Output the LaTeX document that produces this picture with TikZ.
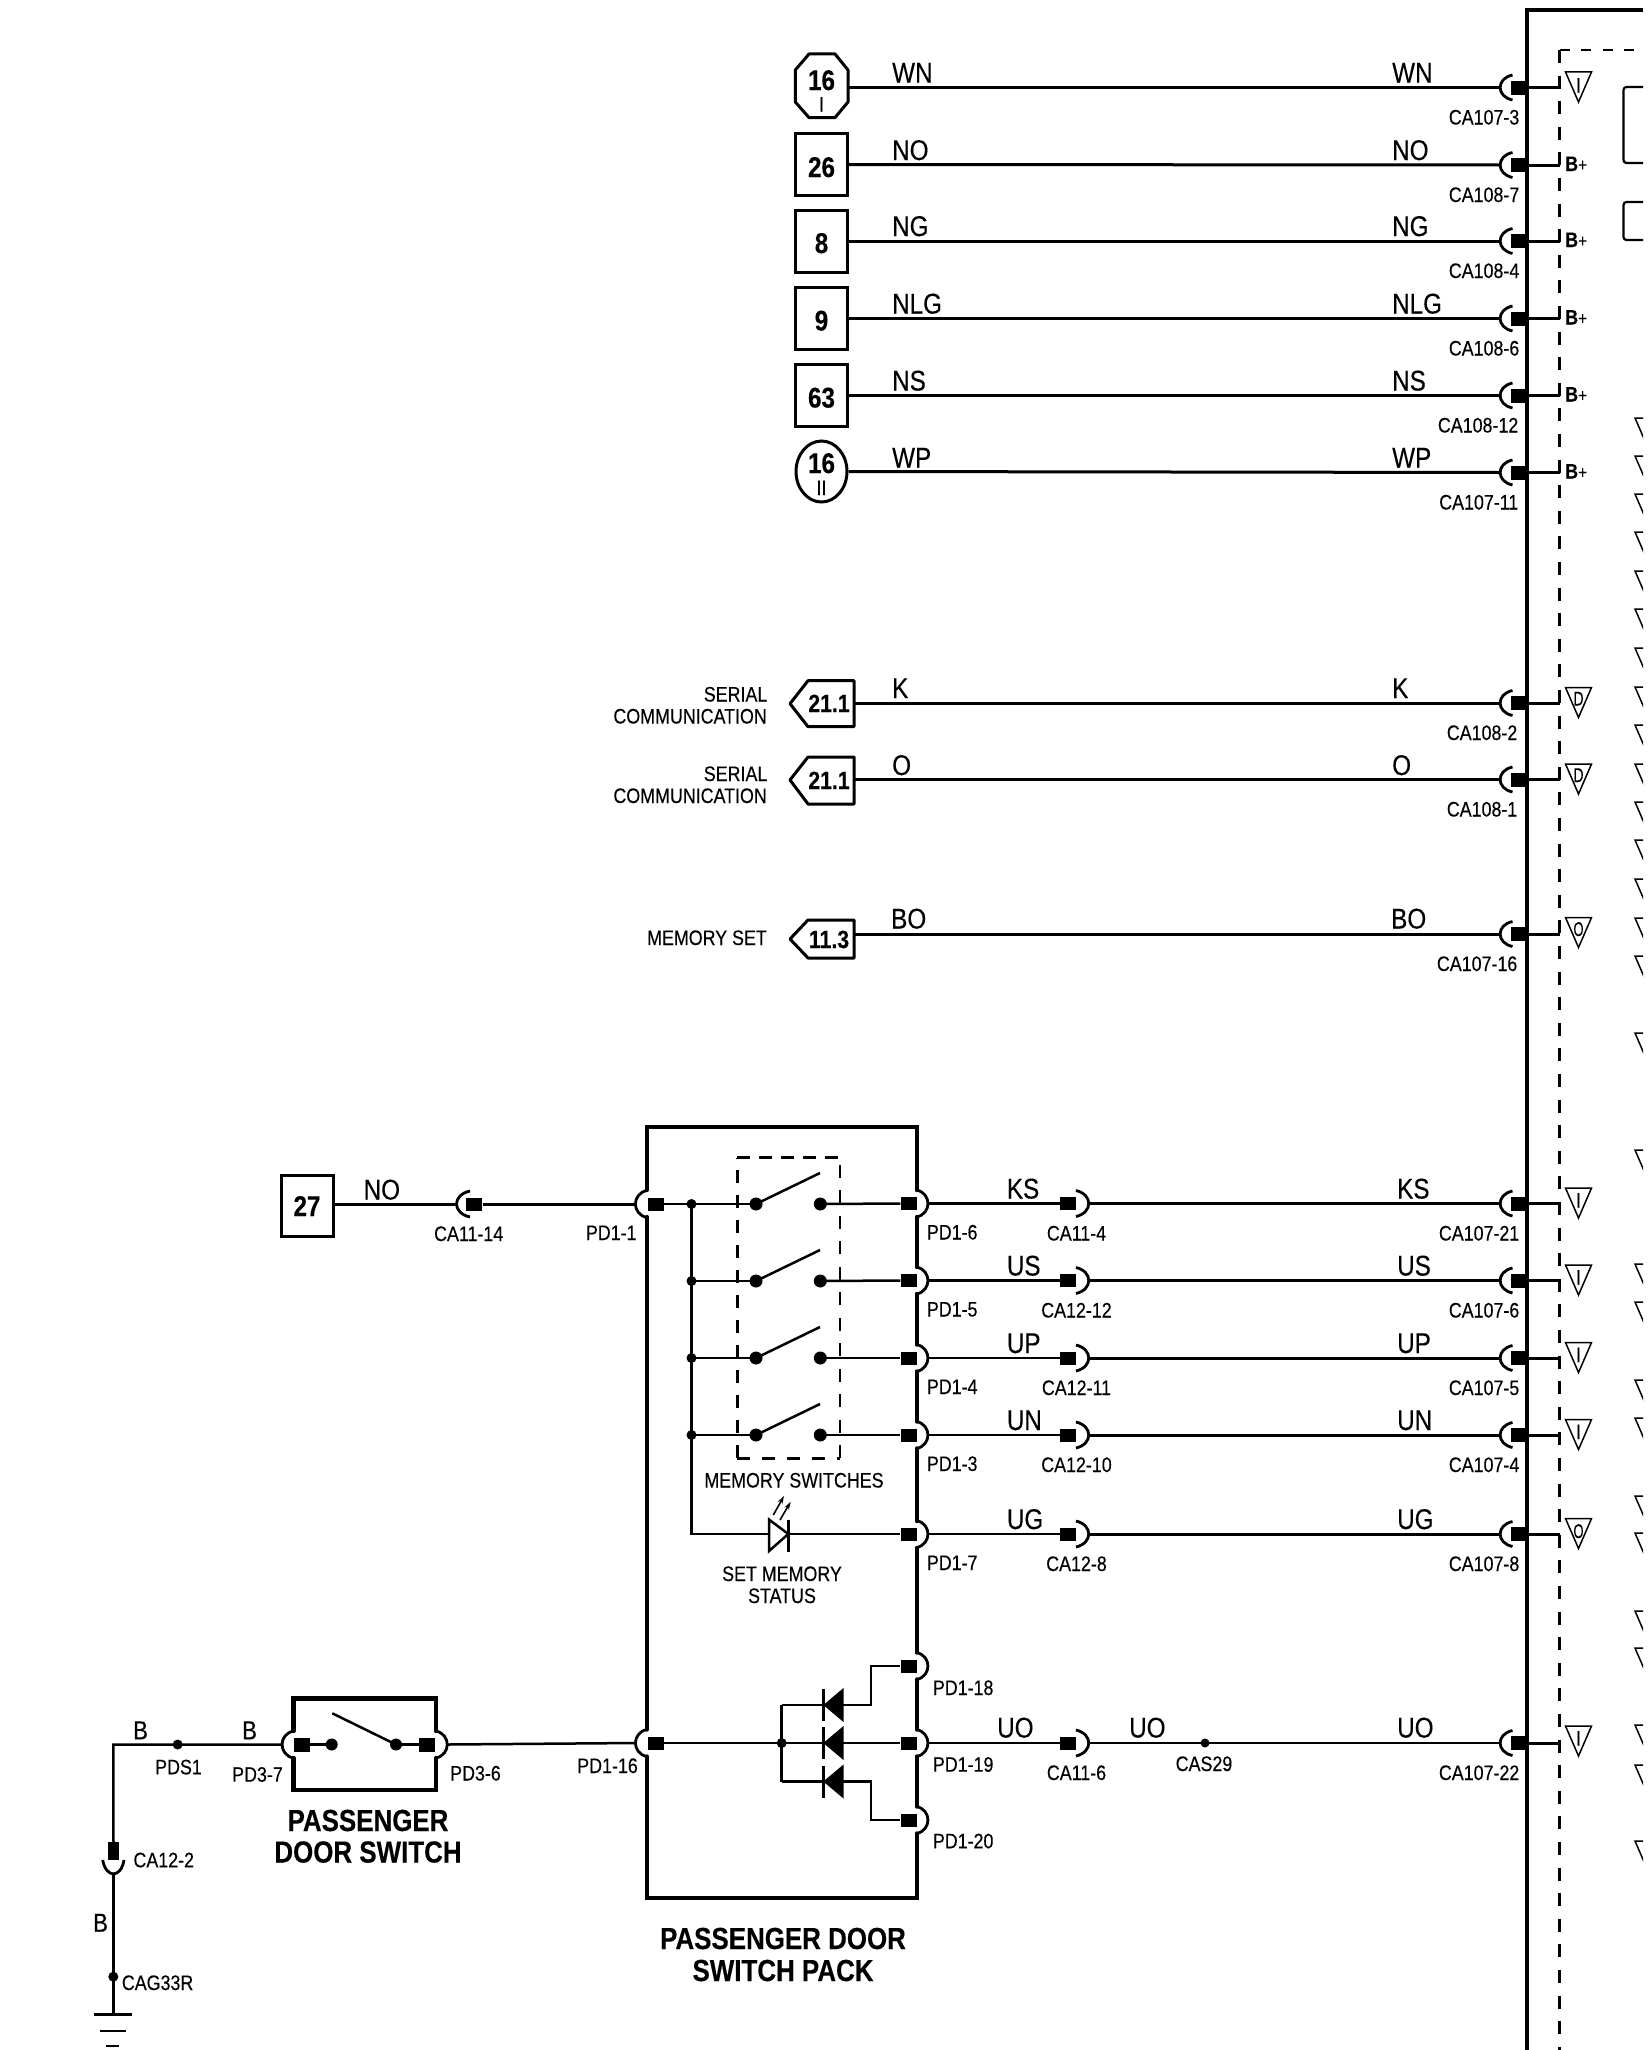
\documentclass[tikz,border=0pt]{standalone}
\usepackage{fontspec}
\usetikzlibrary{arrows.meta,shapes.geometric}
\newfontfamily\nf[FakeStretch=0.85,FakeBold=0.25]{Liberation Sans}
\tikzset{
  base/.style={x=1pt,y=-1pt},
  wire/.style={line width=3pt,black},
  thinw/.style={line width=2.5pt,black},
  crv/.style={line width=2.8pt,black},
  wall/.style={line width=4.4pt,black,line cap=round,line join=miter},
  bx/.style={draw=black,line width=3pt,fill=white,inner sep=0pt},
  outl/.style={draw=black,line width=3pt},
  ddash/.style={line width=2.4pt,black,dash pattern=on 13pt off 12.6pt},
  pinsq/.style={rectangle,fill=black,inner sep=0pt,minimum width=16pt,minimum height=14pt},
  dotb/.style={circle,fill=black,inner sep=0pt,minimum size=13pt},
  dots/.style={circle,fill=black,inner sep=0pt,minimum size=10pt},
  wl/.style={font=\nf\fontsize{28.5}{28.5}\selectfont,inner sep=0pt,anchor=base west},
  bl/.style={font=\nf\fontsize{26}{26}\selectfont,inner sep=0pt,anchor=base west},
  sl/.style={font=\nf\fontsize{21}{21}\selectfont,inner sep=0pt,anchor=base west},
  slr/.style={sl,anchor=base east},
  slc/.style={sl,anchor=base},
  nb/.style={font=\nf\bfseries\fontsize{28.5}{28.5}\selectfont,inner sep=0pt,anchor=base},
  nbs/.style={font=\nf\bfseries\fontsize{25}{25}\selectfont,inner sep=0pt,anchor=base},
  ttl/.style={font=\nf\bfseries\fontsize{30.5}{30.5}\selectfont,inner sep=0pt,anchor=base},
  tri/.style={line width=1.5pt,black},
}
\def\lblr{1519.5}
% right hand harness connector: name, row, label
\newcommand{\ConnR}[3]{%
  \node[pinsq,anchor=east] (#1) at (1527,#2) {};
  \coordinate (#1c) at (1500,#2);
  \coordinate (#1d) at (1559.5,#2);
  \draw[crv] (1512.5,{#2-12.5}) .. controls (1496,{#2-9}) and (1496,{#2+9}) .. (1512.5,{#2+12.5});
  \draw[wire] (#1.east) -- (#1d);
  \node[slr] (#1t) at (\lblr,{#2+37}) {#3};
}
% triangle: row, text, name, base offset
\newcommand{\TriM}[4]{%
  \draw[tri] (1565.5,{#1-15.5}) -- (1591.5,{#1-15.5}) -- (1578.5,{#1+14.5}) -- cycle;
  \node[sl,anchor=base] (#3) at (1578.5,{#1+#4}) {#2};
}
\newcommand{\NarO}{\scalebox{.72}[.95]{O}}
\newcommand{\NarD}{\scalebox{.78}[.95]{D}}
\newcommand{\BPlus}[2]{\node[sl,anchor=base west] (#2) at (1565,{#1+6}) {\bfseries B\mdseries\fontsize{18}{18}\selectfont +};}
\newcommand{\BumpR}[3]{\draw[crv] (#1,{#2-13.5}) .. controls ({#1+15},{#2-10}) and ({#1+15},{#2+10}) .. (#1,{#2+13.5});\coordinate (#3) at ({#1+11.3},#2);}
\newcommand{\BumpL}[3]{\draw[crv] (#1,{#2-13.5}) .. controls ({#1-15},{#2-10}) and ({#1-15},{#2+10}) .. (#1,{#2+13.5});\coordinate (#3) at ({#1-11.3},#2);}
% mid-wire connector
\newcommand{\ConnM}[3]{%
  \node[pinsq,minimum height=13pt,anchor=east] (#1) at (1076.5,#2) {};
  \draw[crv] (1076,{#2-13}) .. controls (1093,{#2-9}) and (1093,{#2+9}) .. (1076,{#2+13});
  \coordinate (#1o) at (1089,#2);
  \node[slc] (#1t) at (1076.5,{#2+37}) {#3};
}
% row of the switch pack going to the loom
\newcommand{\PackRow}[8]{%  name,row,pinlabel,pinlabel-x,mid label,wire,rightlabel,ptext
  \node[pinsq,minimum height=13pt,anchor=east] (#1p) at (916.7,#2) {};
  \BumpR{916.7}{#2}{#1b}
  \node[sl] (#1pl) at (#4,{#2+36}) {#3};
  \ConnM{#1m}{#2}{#5}
  \ConnR{#1r}{#2}{#7}
  \draw[thinw] (#1b) -- (#1m.west);
  \draw[wire] (#1mo) -- (#1rc);
  \node[wl] (#1a) at (1006.7,{#2-5}) {#6};
  \node[wl] (#1bb) at (1397,{#2-5}) {#6};
  \TriM{#2}{#8}{#1tr}{4}
}
\begin{document}
\begin{tikzpicture}[base]
\useasboundingbox (0,0) rectangle (1648,2050);
\fill[white] (0,0) rectangle (1648,2050);

% ---- module frame and dashed inner box
\draw[line width=4pt,black] (1527,2050) -- (1527,10) -- (1643,10);
\draw[line width=2.4pt,black,dash pattern=on 10pt off 11.5pt] (1559.5,50) -- (1641,50);
\draw[ddash] (1559.5,50) -- (1559.5,2050);
\draw[line width=2.2pt,black,rounded corners=3pt] (1643,87) -- (1623.5,87) -- (1623.5,163) -- (1643,163);
\draw[line width=2.2pt,black,rounded corners=3pt] (1643,202) -- (1623.5,202) -- (1623.5,240) -- (1643,240);
\begin{scope}
\clip (1625,0) rectangle (1643,2050);
\foreach \ty in {418,456,494,532,571,609,648,687,725,764,802,840,879,918,956,1033,1150,1264,1302,1380,1418,1496,1533,1611,1648,1725,1765,1841}
  \draw[tri] (1635,\ty) -- (1661,\ty) -- (1648,{\ty+30}) -- cycle;
\end{scope}

% ---- top group
\node[bx,minimum width=52pt,minimum height=62pt] (b26) at (821.5,164.5) {};
\node[bx,minimum width=52pt,minimum height=62pt] (b8) at (821.5,241) {};
\node[bx,minimum width=52pt,minimum height=62pt] (b9) at (821.5,318.5) {};
\node[bx,minimum width=52pt,minimum height=62pt] (b63) at (821.5,395.5) {};
\node[bx,ellipse,minimum width=51pt,minimum height=61pt] (c16) at (821.5,471.5) {};
\draw[outl,fill=white,line join=round] (809,54) -- (835,54) -- (848,70) -- (848,102) -- (835,117.6) -- (809,117.6) -- (795.3,102) -- (795.3,70) -- cycle;
\coordinate (o16e) at (848,87.5);
\node[nb] (o16t) at (821.5,90) {16};
\node[sl,anchor=base] (o16s) at (821.5,111.5) {I};
\node[nb] (b26t) at (821.5,177) {26};
\node[nb] (b8t) at (821.5,253) {8};
\node[nb] (b9t) at (821.5,330.5) {9};
\node[nb] (b63t) at (821.5,407.5) {63};
\node[nb] (c16t) at (821.5,473) {16};
\node[sl,anchor=base] (c16s) at (821.5,495) {II};

\ConnR{wn}{87.5}{CA107-3}
\ConnR{no}{165}{CA108-7}
\ConnR{ng}{241}{CA108-4}
\ConnR{nlg}{318.5}{CA108-6}
\def\lblr{1518.5}
\ConnR{ns}{395.5}{CA108-12}
\ConnR{wp}{472.5}{CA107-11}
\draw[wire] (o16e) -- (wnc);
\draw[wire] (b26.east) -- (noc);
\draw[wire] (b8.east) -- (ngc);
\draw[wire] (b9.east) -- (nlgc);
\draw[wire] (b63.east) -- (nsc);
\draw[wire] (c16.east) -- (wpc);
\node[wl] (l1) at (892,82.5) {WN};   \node[wl] (r1) at (1392,82.5) {WN};
\node[wl] (l2) at (892,160) {NO};    \node[wl] (r2) at (1392,160) {NO};
\node[wl] (l3) at (892,236) {NG};    \node[wl] (r3) at (1392,236) {NG};
\node[wl] (l4) at (892,313.5) {NLG}; \node[wl] (r4) at (1392,313.5) {NLG};
\node[wl] (l5) at (892,390.5) {NS};  \node[wl] (r5) at (1392,390.5) {NS};
\node[wl] (l6) at (892,467.5) {WP};  \node[wl] (r6) at (1392,467.5) {WP};
\TriM{87.5}{I}{t1}{5}
\BPlus{165}{t2}
\BPlus{241}{t3}
\BPlus{318.5}{t4}
\BPlus{395.5}{t5}
\BPlus{472.5}{t6}

% ---- communication group
\draw[outl,line join=round] (854,680.7) -- (808,680.7) -- (790,703.7) -- (808,726.7) -- (854,726.7) -- cycle;
\draw[outl,line join=round] (854,757) -- (808,757) -- (790,780) -- (808,804) -- (854,804) -- cycle;
\draw[outl,line join=round] (854,920) -- (808,920) -- (790,939) -- (808,958) -- (854,958) -- cycle;
\coordinate (p1e) at (854,703);
\coordinate (p2e) at (854,779.5);
\coordinate (p3e) at (854,934);
\node[nbs] (p1t) at (829,712) {21.1};
\node[nbs] (p2t) at (829,789) {21.1};
\node[nbs] (p3t) at (829,948) {11.3};
\node[slr] (s1a) at (767.5,701.5) {SERIAL};
\node[slr] (s1b) at (767,723.5) {COMMUNICATION};
\node[slr] (s2a) at (767.5,781) {SERIAL};
\node[slr] (s2b) at (767,803) {COMMUNICATION};
\node[slr] (s3) at (767,945) {MEMORY SET};
\def\lblr{1517.5}
\ConnR{k}{703}{CA108-2}
\ConnR{o}{779.5}{CA108-1}
\ConnR{bo}{934}{CA107-16}
\draw[wire] (p1e) -- (kc);
\draw[wire] (p2e) -- (oc);
\draw[wire] (p3e) -- (boc);
\node[wl] (k1) at (892,698) {K};  \node[wl] (k2) at (1392,698) {K};
\node[wl] (o1) at (892,775) {O};  \node[wl] (o2) at (1392,775) {O};
\node[wl] (bo1) at (891,928.5) {BO}; \node[wl] (bo2) at (1391,928.5) {BO};
\TriM{703}{\NarD}{t7}{2.5}
\TriM{779.5}{\NarD}{t8}{2.5}
\TriM{933}{\NarO}{t9}{3}

% ---- switch pack walls
\draw[wall] (646.7,1190) -- (646.7,1126.7) -- (916.7,1126.7) -- (916.7,1190)
  (916.7,1217) -- (916.7,1267) (916.7,1294) -- (916.7,1344.5) (916.7,1371.5) -- (916.7,1421.5)
  (916.7,1448.5) -- (916.7,1521) (916.7,1548) -- (916.7,1652.5) (916.7,1679.5) -- (916.7,1729.5)
  (916.7,1756.5) -- (916.7,1806.5) (916.7,1833.5) -- (916.7,1897.7) -- (646.7,1897.7) -- (646.7,1756.5)
  (646.7,1729.5) -- (646.7,1217);
\draw[line width=2.5pt,black,dash pattern=on 13pt off 12pt] (737.3,1458.3) -- (737.3,1157.7);
\draw[line width=2.5pt,black,dash pattern=on 13pt off 12pt] (737.3,1458.3) -- (840,1458.3);
\draw[line width=2.5pt,black,dash pattern=on 13pt off 9pt] (737.3,1157.7) -- (840,1157.7);
\draw[line width=2.5pt,black,dash pattern=on 13pt off 12.5pt] (840,1458.3) -- (840,1157.7);

% ---- switch pack output rows
\def\lblr{1519.5}
\PackRow{ks}{1203.5}{PD1-6}{926.7}{CA11-4}{KS}{CA107-21}{I}
\PackRow{us}{1280.5}{PD1-5}{926.7}{CA12-12}{US}{CA107-6}{I}
\PackRow{up}{1358}{PD1-4}{926.7}{CA12-11}{UP}{CA107-5}{I}
\PackRow{un}{1435}{PD1-3}{926.7}{CA12-10}{UN}{CA107-4}{I}
\PackRow{ug}{1534}{PD1-7}{926.7}{CA12-8}{UG}{CA107-8}{\NarO}

% ---- memory switches
\node[pinsq,minimum height=13pt,anchor=west] (in1) at (647.3,1204) {};
\BumpL{646.7}{1204}{in1b}
\foreach \n/\r in {1/1204,2/1281,3/1358,4/1435}{
  \node[dots] (bus\n) at (691.5,\r) {};
  \node[dotb] (swl\n) at (756,\r) {};
  \node[dotb] (swr\n) at (820.3,\r) {};
  \coordinate (arm\n) at (820,{\r-31});
  \draw[thinw] (swl\n.center) -- (arm\n);
  \draw[thinw] (bus\n.center) -- (swl\n.center);
}
\draw[thinw] (in1.east) -- (bus1.center);
\draw[thinw] (swr1.center) -- (ksp.west);
\draw[thinw] (swr2.center) -- (usp.west);
\draw[thinw] (swr3.center) -- (upp.west);
\draw[thinw] (swr4.center) -- (unp.west);
\coordinate (busend) at (691.5,1534);
\coordinate (ledin) at (769,1534);
\coordinate (ledout) at (788.3,1534);
\draw[thinw] (bus1.center) -- (busend) -- (ledin);
\draw[thinw] (ledout) -- (ugp.west);
\draw[line width=2.5pt,black,fill=white,line join=miter] (769,1519.5) -- (788.3,1534) -- (769,1551) -- cycle;
\draw[line width=2.5pt,black] (788.3,1519.5) -- (788.3,1551.5);
\draw[line width=1.6pt,black,-{Stealth[length=8pt,width=5pt]}] (773.3,1515) -- (784,1496);
\draw[line width=1.6pt,black,-{Stealth[length=8pt,width=5pt]}] (780,1520) -- (790.7,1501.7);
\node[slc] (msw) at (794,1487.5) {MEMORY SWITCHES};
\node[slc] (smm) at (782,1581) {SET MEMORY};
\node[slc] (sms) at (782,1603) {STATUS};

% ---- diodes
\node[pinsq,minimum height=13pt,anchor=east] (d18) at (916.7,1666) {};
\node[pinsq,minimum height=13pt,anchor=east] (d19) at (916.7,1743) {};
\node[pinsq,minimum height=13pt,anchor=east] (d20) at (916.7,1820) {};
\BumpR{916.7}{1666}{d18b}
\BumpR{916.7}{1743}{d19b}
\BumpR{916.7}{1820}{d20b}
\node[pinsq,minimum height=13pt,anchor=west] (in16) at (647.3,1743) {};
\BumpL{646.7}{1743}{in16b}
\node[dots] (ddot) at (781.7,1743) {};
\coordinate (dt) at (781.7,1705);
\coordinate (db) at (781.7,1781.5);
\coordinate (dtr) at (871,1705);
\coordinate (dbr) at (871,1781.5);
\draw[thinw] (in16.east) -- (ddot.center) -- (d19.west);
\draw[thinw] (dt) -- (db);
\draw[thinw] (dt) -- (dtr) -- (871,1666) -- (d18.west);
\draw[thinw] (db) -- (dbr) -- (871,1820) -- (d20.west);
\foreach \r in {1705,1743,1781.5}{
  \fill[black] (823.3,\r) -- (843.5,{\r-17}) -- (843.5,{\r+17}) -- cycle;
  \draw[line width=2.5pt,black] (823.3,{\r-16}) -- (823.3,{\r+16});
}
\node[slr] (pd11) at (636.7,1240) {PD1-1};
\node[slr] (pd116) at (638,1773) {PD1-16};
\node[sl] (pd118) at (932.7,1695) {PD1-18};
\node[sl] (pd119) at (932.7,1771.7) {PD1-19};
\node[sl] (pd120) at (932.7,1848.3) {PD1-20};
\node[ttl] (pk1) at (783,1949) {PASSENGER DOOR};
\node[ttl] (pk2) at (783,1981) {SWITCH PACK};

% ---- UO line
\ConnM{uom}{1743}{CA11-6}
\ConnR{uor}{1743}{CA107-22}
\node[dots,minimum size=9pt] (cas) at (1205,1743) {};
\draw[thinw] (d19b) -- (uom.west);
\draw[thinw] (uomo) -- (cas.center) -- (uorc);
\node[wl] (uo1) at (997,1737.5) {UO};
\node[wl] (uo2) at (1129,1737.5) {UO};
\node[wl] (uo3) at (1397,1737.5) {UO};
\node[slc] (cast) at (1204,1771) {CAS29};
\TriM{1741.5}{I}{t10}{4}

% ---- input from 27
\node[bx,minimum width=52pt,minimum height=61pt] (b27) at (307.5,1206) {};
\node[nb] (b27t) at (307,1216) {27};
\node[pinsq,minimum height=13pt,anchor=east] (ca14) at (482.5,1204) {};
\draw[crv] (470,1191) .. controls (452,1195) and (452,1213) .. (470,1217);
\coordinate (ca14c) at (456,1204);
\draw[wire] (b27.east |- ca14c) -- (ca14c);
\draw[wire] (ca14.east) -- (in1b);
\node[wl] (no27) at (363.5,1199.5) {NO};
\node[slc] (ca14t) at (468.7,1241) {CA11-14};

% ---- passenger door switch
\draw[wall] (293.3,1731) -- (293.3,1698.3) -- (436,1698.3) -- (436,1731)
  (436,1758) -- (436,1790) -- (293.3,1790) -- (293.3,1758);
\node[pinsq,anchor=west] (ps1) at (293.5,1744.5) {};
\node[pinsq,anchor=east] (ps2) at (435,1744.5) {};
\BumpL{293.3}{1744.5}{ps1b}
\BumpR{436}{1744.5}{ps2b}
\node[dotb,minimum size=12pt] (psd1) at (331.7,1744.5) {};
\node[dotb,minimum size=12pt] (psd2) at (396,1744.5) {};
\coordinate (psarm) at (332.3,1713.3);
\draw[thinw] (ps1.east) -- (psd1.center);
\draw[thinw] (psd2.center) -- (ps2.west);
\draw[thinw] (psarm) -- (psd2.center);
\draw[thinw] (ps2b) -- (in16b);
\node[slr] (pd37) at (283,1781.7) {PD3-7};
\node[sl] (pd36) at (450,1780.5) {PD3-6};
\node[ttl] (ps3) at (368,1831) {PASSENGER};
\node[ttl] (ps4) at (368,1862.5) {DOOR SWITCH};

% ---- ground leg
\coordinate (cnr) at (113.3,1744.5);
\node[dots] (pds) at (177.7,1744.5) {};
\node[rectangle,fill=black,inner sep=0pt,minimum width=11pt,minimum height=18pt] (ca12) at (113.5,1851) {};
\coordinate (ca12b) at (113.3,1874);
\draw[crv] (102.7,1860) .. controls (106,1878.5) and (121,1878.5) .. (124,1860);
\node[dots] (cag) at (113.3,1976.7) {};
\coordinate (gnd) at (113.3,2014.3);
\draw[thinw] (ps1b) -- (pds.center) -- (cnr) -- (ca12.north);
\draw[thinw] (ca12b) -- (cag.center) -- (gnd);
\draw[line width=2.8pt,black] (94,2014.3) -- (132.3,2014.3);
\draw[line width=2.8pt,black] (100,2031) -- (125.7,2031);
\draw[line width=2.8pt,black] (106,2046) -- (119,2046);
\node[bl] (bb1) at (133,1739.3) {B};
\node[bl] (bb2) at (242,1739.3) {B};
\node[bl] (bb3) at (93,1931.7) {B};
\node[sl] (pdst) at (155,1774.3) {PDS1};
\node[sl] (ca12t) at (133.3,1867.3) {CA12-2};
\node[sl] (cagt) at (121.7,1990) {CAG33R};
\end{tikzpicture}
\end{document}
